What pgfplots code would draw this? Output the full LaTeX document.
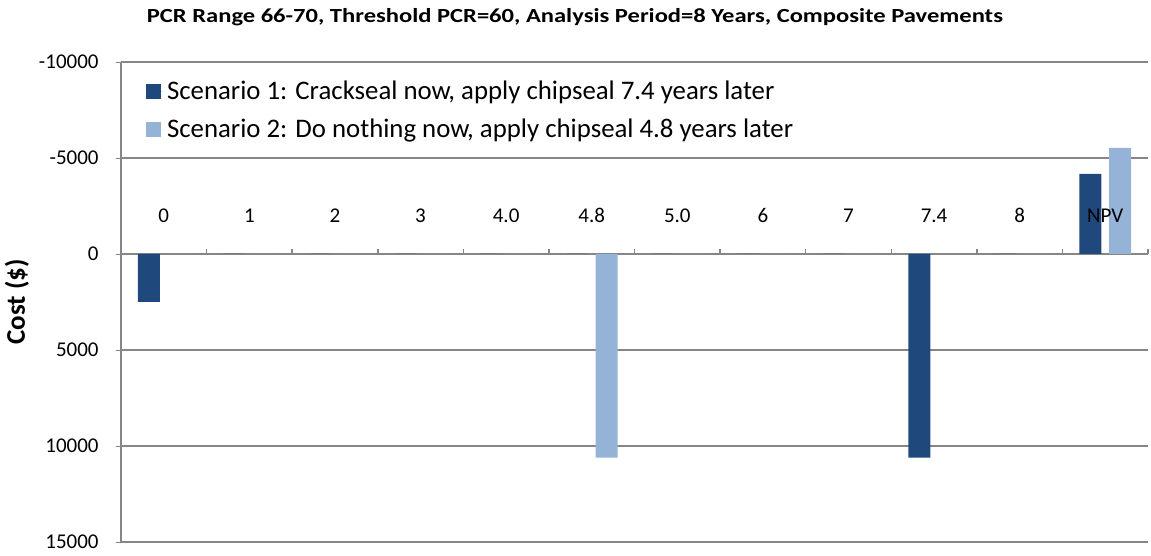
\documentclass[border=0pt]{standalone}
\usepackage{fontspec}
\setmainfont{Carlito}
\usepackage{graphicx}
\usepackage{pgfplots}
\pgfplotsset{compat=1.18}
\pgfplotsset{layers/mylayers/.define layer set={axis background,axis grid,axis ticks,axis lines,main,axis tick labels,axis descriptions,axis foreground}{
  grid style={/pgfplots/on layer=axis grid},
  tick style={/pgfplots/on layer=axis ticks},
  axis line style={/pgfplots/on layer=axis lines},
  label style={/pgfplots/on layer=axis descriptions},
  legend style={/pgfplots/on layer=axis descriptions},
  title style={/pgfplots/on layer=axis descriptions},
  ticklabel style={/pgfplots/on layer=axis tick labels},
}}
\definecolor{dk}{RGB}{31,73,125}
\definecolor{lt}{RGB}{149,179,215}
\definecolor{gr}{RGB}{134,134,134}
\begin{document}
\begin{tikzpicture}
\begin{axis}[
  set layers=mylayers,
  scale only axis, width=513.5pt, height=240pt,
  xmin=-0.5, xmax=11.5, ymin=-10000, ymax=15000, y dir=reverse,
  scaled y ticks=false,
  axis x line*=middle, axis y line*=left,
  axis line style={gr, line width=0.75pt},
  ytick={-10000,-5000,0,5000,10000,15000},
  yticklabels={-10000,-5000,0,5000,10000,15000},
  ymajorgrids, grid style={gr, line width=0.75pt},
  xtick={0,...,11},
  xticklabels={0,1,2,3,4.0,4.8,5.0,6,7,7.4,8,NPV},
  minor xtick={0.5,1.5,...,11.5},
  major x tick style={draw=none},
  minor x tick style={gr, line width=0.75pt},
  minor tick length=2.5pt, major tick length=2.5pt,
  tick align=outside,
  ticklabel style={font=\fontsize{10.5}{12}\selectfont},
  xticklabel style={anchor=base, inner sep=0pt, yshift=18pt},
  yticklabel style={anchor=east, inner sep=0pt, xshift=-8.5pt},
  ylabel={Cost (\$)},
  ylabel style={font=\bfseries\fontsize{13.5}{16}\selectfont, at={(axis description cs:-0.1013,0.5)}, anchor=center},
  title={\scalebox{1.228}[1]{PCR Range 66-70, Threshold PCR=60, Analysis Period=8 Years, Composite Pavements}},
  every axis title shift=0pt,
  title style={font=\bfseries\fontsize{10}{12}\selectfont, at={(axis description cs:0.442,1)}, anchor=base, yshift=19.6pt},
  ybar=3.8pt, bar width=11pt,
  legend image code/.code={\fill[#1] (0pt,-3.75pt) rectangle (7.5pt,3.75pt); \path (0pt,0pt) -- (8.5pt,0pt);},
  legend style={draw=none, fill=none, at={(axis description cs:0.024,0.97)}, anchor=north west,
    font=\fontsize{13.4}{16}\selectfont, row sep=4pt, inner sep=0pt},
  legend cell align=left,
]
\addplot[fill=dk, draw=none] coordinates {(0,2500) (1,0) (2,0) (3,0) (4,0) (5,0) (6,0) (7,0) (8,0) (9,10600) (10,0) (11,-4170)};
\addlegendentry{Scenario 1: Crackseal now, apply chipseal 7.4 years later}
\addplot[fill=lt, draw=none] coordinates {(0,0) (1,0) (2,0) (3,0) (4,0) (5,10600) (6,0) (7,0) (8,0) (9,0) (10,0) (11,-5530)};
\addlegendentry{Scenario 2: Do nothing now, apply chipseal 4.8 years later}
\end{axis}
\pgfresetboundingbox
\path (current axis.south west) ++(-60.5pt,-7pt) rectangle ([shift={(1.5pt,31pt)}]current axis.north east);
\end{tikzpicture}
\end{document}
